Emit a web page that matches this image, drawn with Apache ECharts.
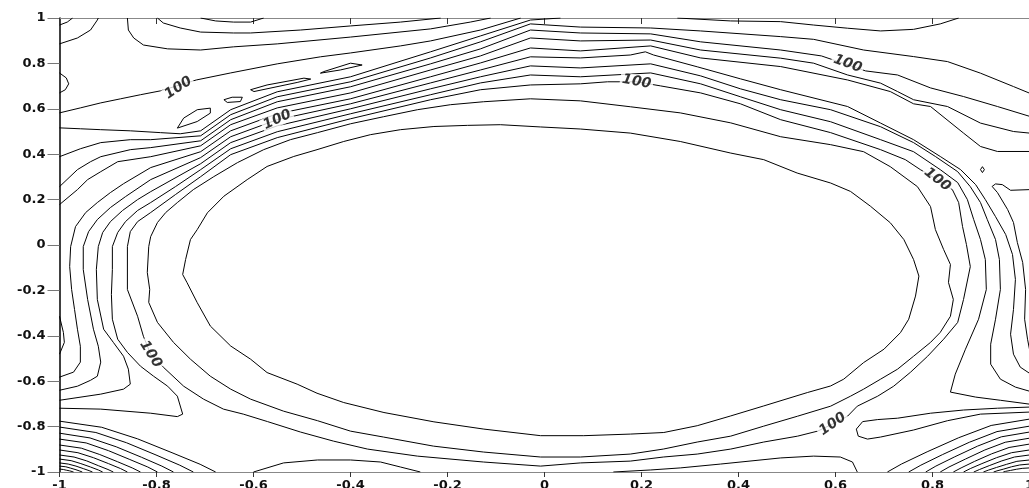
<!DOCTYPE html>
<html><head><meta charset="utf-8">
<script src="https://cdn.jsdelivr.net/npm/echarts@6/dist/echarts.min.js"></script>
<style>html,body{margin:0;padding:0;background:#fff;overflow:hidden}#c{width:1037px;height:492px}</style>
</head><body><div id="c"></div>
<script>
const xTickLabels = ['-1','-0.8','-0.6','-0.4','-0.2','0','0.2','0.4','0.6','0.8','1'];
const yTickLabels = ['-1','-0.8','-0.6','-0.4','-0.2','0','0.2','0.4','0.6','0.8','1'];

const ringInner = [[-0.730,0.024],[-0.716,0.068],[-0.695,0.142],[-0.661,0.215],[-0.613,0.288],[-0.572,0.346],[-0.517,0.390],[-0.469,0.420],[-0.414,0.456],[-0.359,0.486],[-0.297,0.508],[-0.228,0.522],[-0.159,0.527],[-0.091,0.530],[-0.008,0.520],[0.074,0.511],[0.177,0.493],[0.280,0.456],[0.384,0.405],[0.452,0.376],[0.521,0.317],[0.590,0.273],[0.631,0.236],[0.672,0.171],[0.713,0.098],[0.741,0.024],[0.761,-0.064],[0.772,-0.137],[0.765,-0.225],[0.751,-0.327],[0.734,-0.386],[0.700,-0.459],[0.658,-0.518],[0.617,-0.591],[0.590,-0.621],[0.542,-0.650],[0.452,-0.709],[0.384,-0.753],[0.315,-0.796],[0.246,-0.826],[0.177,-0.833],[0.081,-0.840],[-0.008,-0.840],[-0.125,-0.811],[-0.228,-0.779],[-0.331,-0.738],[-0.414,-0.694],[-0.469,-0.653],[-0.510,-0.613],[-0.572,-0.562],[-0.606,-0.503],[-0.647,-0.445],[-0.689,-0.357],[-0.716,-0.254],[-0.737,-0.166],[-0.746,-0.130],[-0.740,-0.064],[-0.730,0.024]];

const ringSecond = [[-0.816,-0.007],[-0.812,0.037],[-0.798,0.099],[-0.781,0.143],[-0.757,0.187],[-0.724,0.244],[-0.682,0.301],[-0.633,0.363],[-0.579,0.420],[-0.524,0.464],[-0.468,0.495],[-0.400,0.534],[-0.332,0.565],[-0.262,0.596],[-0.194,0.618],[-0.126,0.631],[-0.029,0.644],[0.074,0.635],[0.177,0.609],[0.280,0.582],[0.384,0.538],[0.487,0.477],[0.590,0.442],[0.658,0.411],[0.713,0.345],[0.769,0.257],[0.796,0.169],[0.806,0.068],[0.823,-0.020],[0.837,-0.086],[0.833,-0.165],[0.843,-0.240],[0.837,-0.314],[0.816,-0.385],[0.796,-0.429],[0.761,-0.490],[0.728,-0.547],[0.693,-0.591],[0.658,-0.635],[0.631,-0.666],[0.590,-0.710],[0.522,-0.754],[0.452,-0.798],[0.384,-0.842],[0.315,-0.868],[0.245,-0.899],[0.177,-0.921],[0.074,-0.934],[-0.008,-0.934],[-0.126,-0.912],[-0.229,-0.886],[-0.332,-0.846],[-0.400,-0.820],[-0.468,-0.774],[-0.538,-0.732],[-0.606,-0.679],[-0.647,-0.635],[-0.689,-0.578],[-0.730,-0.503],[-0.765,-0.429],[-0.798,-0.341],[-0.816,-0.253],[-0.814,-0.196],[-0.819,-0.121],[-0.816,-0.007]];

const ringLabelled = [[-0.860,-0.007],[-0.854,0.059],[-0.839,0.103],[-0.812,0.143],[-0.761,0.222],[-0.709,0.301],[-0.647,0.398],[-0.551,0.473],[-0.400,0.556],[-0.235,0.640],[-0.132,0.684],[-0.029,0.705],[0.074,0.710],[0.130,0.719],[0.190,0.719],[0.239,0.701],[0.322,0.670],[0.404,0.622],[0.487,0.552],[0.590,0.495],[0.693,0.420],[0.744,0.376],[0.775,0.332],[0.810,0.288],[0.841,0.244],[0.854,0.187],[0.862,0.081],[0.870,0.002],[0.878,-0.095],[0.864,-0.240],[0.852,-0.341],[0.823,-0.415],[0.790,-0.490],[0.755,-0.560],[0.720,-0.622],[0.687,-0.666],[0.645,-0.710],[0.625,-0.754],[0.594,-0.789],[0.563,-0.820],[0.522,-0.842],[0.452,-0.868],[0.384,-0.899],[0.315,-0.921],[0.245,-0.934],[0.177,-0.952],[0.074,-0.960],[-0.008,-0.974],[-0.126,-0.956],[-0.262,-0.930],[-0.365,-0.899],[-0.435,-0.864],[-0.503,-0.824],[-0.571,-0.778],[-0.621,-0.745],[-0.662,-0.723],[-0.703,-0.679],[-0.744,-0.622],[-0.786,-0.538],[-0.812,-0.481],[-0.827,-0.402],[-0.839,-0.314],[-0.860,-0.196],[-0.860,-0.007]];

const archOne = [[-1,-0.719],[-0.915,-0.723],[-0.812,-0.741],[-0.757,-0.756],[-0.746,-0.745],[-0.757,-0.666],[-0.777,-0.622],[-0.806,-0.578],[-0.833,-0.534],[-0.860,-0.473],[-0.880,-0.415],[-0.891,-0.327],[-0.893,-0.218],[-0.891,-0.108],[-0.891,-0.007],[-0.880,0.055],[-0.864,0.103],[-0.839,0.152],[-0.812,0.187],[-0.761,0.257],[-0.709,0.332],[-0.647,0.424],[-0.551,0.499],[-0.400,0.578],[-0.235,0.662],[-0.132,0.714],[-0.029,0.749],[0.074,0.741],[0.219,0.758],[0.322,0.710],[0.404,0.653],[0.487,0.596],[0.590,0.543],[0.693,0.464],[0.761,0.411],[0.816,0.332],[0.852,0.275],[0.872,0.200],[0.885,0.112],[0.899,0.024],[0.909,-0.064],[0.911,-0.196],[0.895,-0.327],[0.868,-0.459],[0.847,-0.569],[0.837,-0.648],[0.889,-0.670],[0.940,-0.684],[1,-0.701]];

const archTwo = [[-1,-0.684],[-0.915,-0.657],[-0.868,-0.635],[-0.854,-0.613],[-0.858,-0.547],[-0.868,-0.490],[-0.889,-0.429],[-0.909,-0.371],[-0.922,-0.240],[-0.924,-0.108],[-0.920,-0.007],[-0.911,0.055],[-0.895,0.103],[-0.870,0.152],[-0.839,0.200],[-0.812,0.235],[-0.709,0.358],[-0.647,0.451],[-0.551,0.525],[-0.400,0.600],[-0.235,0.688],[-0.132,0.741],[-0.029,0.789],[0.074,0.780],[0.219,0.798],[0.322,0.745],[0.404,0.688],[0.487,0.640],[0.590,0.596],[0.693,0.521],[0.761,0.451],[0.806,0.390],[0.852,0.323],[0.878,0.257],[0.899,0.187],[0.913,0.112],[0.930,0.024],[0.938,-0.064],[0.940,-0.196],[0.930,-0.327],[0.920,-0.437],[0.920,-0.525],[0.940,-0.591],[0.971,-0.626],[1,-0.644]];

const archThree = [[-1,-0.640],[-0.963,-0.622],[-0.936,-0.596],[-0.922,-0.578],[-0.915,-0.516],[-0.920,-0.446],[-0.930,-0.371],[-0.942,-0.240],[-0.951,-0.108],[-0.951,-0.007],[-0.940,0.059],[-0.922,0.112],[-0.895,0.165],[-0.864,0.213],[-0.812,0.288],[-0.709,0.385],[-0.647,0.477],[-0.551,0.552],[-0.400,0.622],[-0.235,0.714],[-0.132,0.771],[-0.029,0.829],[0.074,0.824],[0.177,0.837],[0.208,0.851],[0.225,0.837],[0.315,0.785],[0.404,0.732],[0.487,0.684],[0.625,0.610],[0.693,0.537],[0.761,0.464],[0.816,0.390],[0.858,0.332],[0.889,0.266],[0.909,0.200],[0.930,0.125],[0.951,0.046],[0.965,-0.042],[0.971,-0.152],[0.967,-0.284],[0.961,-0.393],[0.967,-0.481],[0.981,-0.538],[1,-0.565]];

const archFour = [[-1,-0.582],[-0.971,-0.560],[-0.957,-0.516],[-0.957,-0.446],[-0.963,-0.371],[-0.969,-0.284],[-0.975,-0.196],[-0.979,-0.095],[-0.977,-0.007],[-0.967,0.081],[-0.946,0.143],[-0.922,0.187],[-0.895,0.231],[-0.868,0.270],[-0.812,0.341],[-0.709,0.411],[-0.647,0.503],[-0.551,0.578],[-0.400,0.644],[-0.235,0.741],[-0.132,0.802],[-0.029,0.868],[0.074,0.855],[0.219,0.877],[0.322,0.824],[0.487,0.786],[0.625,0.727],[0.713,0.676],[0.761,0.622],[0.796,0.610],[0.864,0.493],[0.899,0.434],[0.934,0.412],[1,0.412]];

const bandE5 = [[-1,0.178],[-0.963,0.244],[-0.942,0.288],[-0.915,0.323],[-0.880,0.367],[-0.812,0.389],[-0.709,0.437],[-0.647,0.530],[-0.551,0.604],[-0.400,0.670],[-0.235,0.771],[-0.132,0.833],[-0.029,0.912],[0.074,0.899],[0.219,0.903],[0.322,0.859],[0.487,0.823],[0.555,0.801],[0.625,0.749],[0.693,0.713],[0.728,0.676],[0.761,0.640],[0.831,0.610],[0.899,0.537],[0.967,0.500],[1,0.493]];
const bandE4 = [[-1,0.257],[-0.963,0.332],[-0.936,0.367],[-0.915,0.389],[-0.854,0.420],[-0.812,0.429],[-0.709,0.459],[-0.647,0.552],[-0.551,0.631],[-0.400,0.697],[-0.235,0.798],[-0.132,0.864],[-0.029,0.947],[0.074,0.934],[0.219,0.930],[0.322,0.895],[0.487,0.859],[0.571,0.833],[0.662,0.767],[0.728,0.749],[0.796,0.692],[0.864,0.654],[0.934,0.610],[1,0.567]];
const bandE3 = [[-1,0.389],[-0.957,0.424],[-0.915,0.451],[-0.854,0.464],[-0.812,0.464],[-0.709,0.481],[-0.647,0.574],[-0.551,0.653],[-0.400,0.719],[-0.235,0.824],[-0.132,0.895],[-0.029,0.974],[0.074,0.960],[0.219,0.956],[0.322,0.943],[0.487,0.918],[0.555,0.906],[0.658,0.859],[0.761,0.830],[0.831,0.808],[0.899,0.757],[0.967,0.698],[1,0.669]];
const bandE2 = [[-1,0.516],[-0.957,0.512],[-0.915,0.508],[-0.854,0.503],[-0.792,0.495],[-0.751,0.490],[-0.709,0.503],[-0.647,0.596],[-0.551,0.675],[-0.400,0.741],[-0.235,0.851],[-0.132,0.921],[-0.029,0.991],[0.033,1]];
const bandE1 = [[-1,0.582],[-0.957,0.604],[-0.915,0.626],[-0.874,0.644],[-0.833,0.662],[-0.792,0.679],[-0.718,0.727],[-0.647,0.758],[-0.551,0.798],[-0.462,0.829],[-0.400,0.846],[-0.297,0.877],[-0.235,0.899],[-0.132,0.947],[-0.049,1]];
const topLineC = [[-0.860,1],[-0.858,0.947],[-0.847,0.912],[-0.827,0.881],[-0.777,0.864],[-0.709,0.859],[-0.641,0.873],[-0.551,0.886],[-0.400,0.916],[-0.235,0.952],[-0.153,0.982],[-0.111,1]];
const topLineD = [[-0.798,1],[-0.786,0.978],[-0.751,0.956],[-0.709,0.938],[-0.641,0.934],[-0.606,0.934],[-0.503,0.947],[-0.400,0.965],[-0.297,0.982],[-0.214,1]];
const topDipE = [[-0.709,1],[-0.678,0.987],[-0.641,0.982],[-0.606,0.982],[-0.579,1]];
const cornerA = [[-1,0.969],[-0.984,0.982],[-0.973,1]];
const cornerB = [[-1,0.886],[-0.963,0.912],[-0.936,0.947],[-0.922,0.991],[-0.920,1]];
const leftBump = [[-1,0.758],[-0.986,0.736],[-0.981,0.710],[-0.988,0.684],[-1,0.670]];
const leftArc = [[-1,-0.314],[-0.992,-0.385],[-0.990,-0.429],[-1,-0.481]];
const topArcRight = [[0.274,1],[0.384,0.987],[0.487,0.984],[0.555,0.969],[0.625,0.955],[0.693,0.943],[0.761,0.950],[0.816,0.974],[0.854,1]];
const ridgeLoops = [
 [[-0.757,0.515],[-0.744,0.559],[-0.716,0.596],[-0.689,0.603],[-0.689,0.581],[-0.716,0.544],[-0.757,0.515]],
 [[-0.661,0.640],[-0.644,0.651],[-0.623,0.651],[-0.627,0.632],[-0.654,0.628],[-0.661,0.640]],
 [[-0.606,0.684],[-0.572,0.705],[-0.496,0.735],[-0.482,0.731],[-0.510,0.716],[-0.599,0.676],[-0.606,0.684]],
 [[-0.462,0.757],[-0.421,0.771],[-0.376,0.793],[-0.400,0.801],[-0.455,0.764],[-0.462,0.757]]
];
const hookRight = [[1,0.244],[0.961,0.241],[0.944,0.266],[0.930,0.269],[0.923,0.258],[0.934,0.231],[0.955,0.156],[0.967,0.099],[0.975,0.011],[0.986,-0.077],[0.992,-0.196],[0.990,-0.327],[0.996,-0.415],[1,-0.459]];
const diamond = [[0.899,0.332],[0.903,0.345],[0.907,0.332],[0.903,0.319],[0.899,0.332]];
const tongueRight = [[1,-0.714],[0.934,-0.719],[0.864,-0.727],[0.796,-0.741],[0.728,-0.763],[0.687,-0.769],[0.656,-0.778],[0.643,-0.811],[0.647,-0.842],[0.666,-0.855],[0.693,-0.846],[0.761,-0.815],[0.831,-0.774],[0.899,-0.745],[1,-0.736]];
const bottomRight = [[0.142,-1],[0.219,-0.991],[0.280,-0.982],[0.363,-0.965],[0.487,-0.938],[0.555,-0.930],[0.610,-0.934],[0.635,-0.956],[0.645,-1]];
const bottomLeft = [[-0.600,-1],[-0.538,-0.960],[-0.468,-0.947],[-0.400,-0.947],[-0.338,-0.956],[-0.297,-0.978],[-0.256,-1]];

const fanLeft = [
 [[-1,-0.776],[-0.913,-0.803],[-0.839,-0.854],[-0.768,-0.915],[-0.710,-0.966],[-0.678,-1]],
 [[-1,-0.802],[-0.925,-0.826],[-0.862,-0.871],[-0.801,-0.925],[-0.752,-0.970],[-0.724,-1]],
 [[-1,-0.829],[-0.937,-0.850],[-0.883,-0.889],[-0.831,-0.935],[-0.789,-0.974],[-0.765,-1]],
 [[-1,-0.855],[-0.945,-0.872],[-0.899,-0.906],[-0.855,-0.945],[-0.818,-0.978],[-0.798,-1]],
 [[-1,-0.881],[-0.955,-0.895],[-0.917,-0.923],[-0.880,-0.955],[-0.850,-0.982],[-0.833,-1]],
 [[-1,-0.903],[-0.962,-0.915],[-0.930,-0.937],[-0.899,-0.963],[-0.874,-0.985],[-0.860,-1]],
 [[-1,-0.925],[-0.970,-0.934],[-0.944,-0.951],[-0.920,-0.972],[-0.900,-0.989],[-0.889,-1]],
 [[-1,-0.943],[-0.976,-0.950],[-0.956,-0.963],[-0.936,-0.978],[-0.920,-0.991],[-0.911,-1]],
 [[-1,-0.960],[-0.982,-0.965],[-0.966,-0.974],[-0.951,-0.985],[-0.939,-0.994],[-0.932,-1]],
 [[-1,-0.974],[-0.987,-0.977],[-0.977,-0.983],[-0.966,-0.990],[-0.958,-0.996],[-0.953,-1]],
 [[-1,-0.987],[-0.992,-0.989],[-0.986,-0.992],[-0.979,-0.995],[-0.974,-0.998],[-0.971,-1]]
];
const fanRight = [
 [[1,-0.767],[0.921,-0.795],[0.854,-0.849],[0.789,-0.911],[0.736,-0.965],[0.707,-1]],
 [[1,-0.798],[0.933,-0.822],[0.876,-0.869],[0.821,-0.923],[0.776,-0.970],[0.751,-1]],
 [[1,-0.824],[0.942,-0.845],[0.893,-0.886],[0.846,-0.933],[0.807,-0.974],[0.786,-1]],
 [[1,-0.851],[0.950,-0.869],[0.908,-0.903],[0.868,-0.943],[0.834,-0.978],[0.816,-1]],
 [[1,-0.877],[0.958,-0.892],[0.922,-0.920],[0.887,-0.953],[0.859,-0.982],[0.843,-1]],
 [[1,-0.903],[0.963,-0.915],[0.932,-0.937],[0.902,-0.963],[0.878,-0.985],[0.864,-1]],
 [[1,-0.925],[0.969,-0.934],[0.943,-0.951],[0.917,-0.972],[0.897,-0.989],[0.885,-1]],
 [[1,-0.947],[0.974,-0.953],[0.953,-0.966],[0.932,-0.980],[0.915,-0.992],[0.905,-1]],
 [[1,-0.965],[0.980,-0.969],[0.963,-0.977],[0.947,-0.987],[0.933,-0.995],[0.926,-1]],
 [[1,-0.982],[0.985,-0.984],[0.973,-0.988],[0.961,-0.993],[0.951,-0.997],[0.946,-1]]
];

const contourLevelLabel = '100';
const labelPoints = [[-0.755,0.692],[-0.551,0.552],[0.190,0.719],[0.625,0.798],[0.810,0.288],[0.594,-0.789],[-0.812,-0.481]];
const labelAngles = [33, 25, -10, -20, -38, 35, -58];

const paths = [ringInner, ringSecond, ringLabelled, archOne, archTwo, archThree, archFour,
  bandE5, bandE4, bandE3, bandE2, bandE1, topLineC, topLineD, topDipE, cornerA, cornerB, leftBump, leftArc,
  topArcRight, hookRight, diamond, tongueRight, bottomRight, bottomLeft]
  .concat(ridgeLoops, fanLeft, fanRight);

const series = paths.map(p => ({
  type: 'line', data: p, symbol: 'none', silent: true, animation: false,
  lineStyle: {color: '#000', width: 1}, z: 2
}));
series.push({
  type: 'scatter', symbolSize: 0, animation: false, silent: true, z: 5,
  data: labelPoints.map((p, i) => ({
    value: p,
    label: {show: true, position: 'inside', rotate: labelAngles[i], formatter: contourLevelLabel,
      fontFamily: 'DejaVu Sans', fontSize: 14, fontWeight: 'bold', fontStyle: 'italic', color: '#000',
      backgroundColor: '#fff', padding: [0, 2]}
  }))
});

const chart = echarts.init(document.getElementById('c'), null, {renderer: 'canvas'});
const labelFont = {fontFamily: 'DejaVu Sans', fontSize: 13, fontWeight: 'bold', color: '#111'};
chart.setOption({
  backgroundColor: '#fff',
  animation: false,
  grid: {left: 59.5, right: 0, top: 18, bottom: 15, containLabel: false},
  xAxis: [{
    type: 'value', min: -1, max: 1, interval: 0.2, position: 'bottom',
    axisLine: {onZero: false, lineStyle: {color: '#888', width: 1}},
    axisTick: {inside: false, length: 5, lineStyle: {color: '#333'}},
    axisLabel: Object.assign({margin: 7, formatter: (v) => xTickLabels[Math.round((v + 1) / 0.2)]}, labelFont),
    splitLine: {show: false}
  }, {
    type: 'value', min: -1, max: 1, interval: 0.2, position: 'top',
    axisLine: {onZero: false, lineStyle: {color: '#888', width: 1}},
    axisTick: {inside: true, length: 6, lineStyle: {color: '#333'}},
    axisLabel: {show: false}, splitLine: {show: false}
  }],
  yAxis: [{
    type: 'value', min: -1, max: 1, interval: 0.2,
    axisLine: {onZero: false, lineStyle: {color: '#000', width: 1.5}},
    axisTick: {inside: false, length: 12, lineStyle: {color: '#777'}},
    axisLabel: Object.assign({margin: 14, formatter: (v) => yTickLabels[Math.round((v + 1) / 0.2)]}, labelFont),
    splitLine: {show: false}
  }],
  series: series
});
</script></body></html>
